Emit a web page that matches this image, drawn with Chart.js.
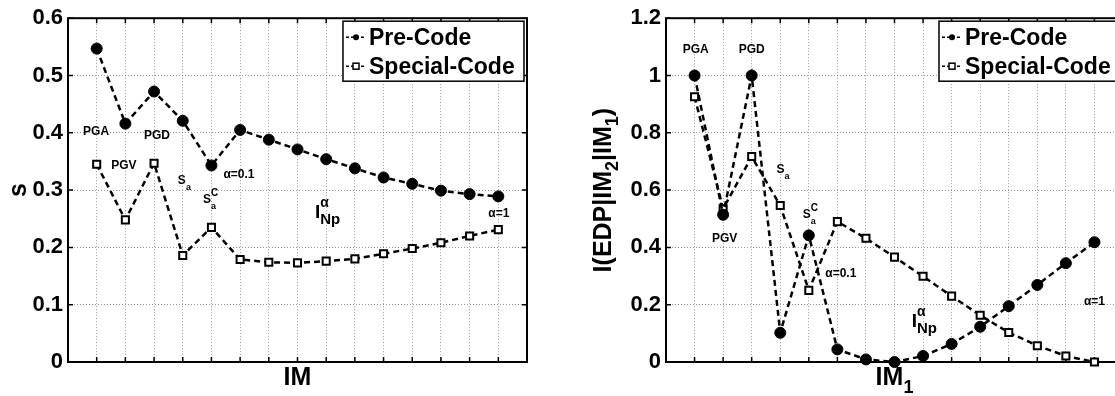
<!DOCTYPE html>
<html>
<head>
<meta charset="utf-8">
<script src="https://cdn.jsdelivr.net/npm/chart.js@4.4.0/dist/chart.umd.min.js"></script>
<style>
html, body { margin: 0; padding: 0; background: #fff; overflow: hidden; width: 1115px; height: 396px; }
#wrapL { position: absolute; left: 0; top: 0; }
#wrapR { position: absolute; left: 557px; top: 0; }
</style>
</head>
<body>
<div id="wrapL"><canvas id="left" width="557" height="396"></canvas></div>
<div id="wrapR"><canvas id="right" width="600" height="396"></canvas></div>
<script>
// x positions: PGA, PGV, PGD, Sa, Sa^C, then I_Np^alpha for alpha = 0.1 ... 1
const imIndex = [1, 2, 3, 4, 5, 6, 7, 8, 9, 10, 11, 12, 13, 14, 15]

// left panel: s
const sPre     = [0.547, 0.416, 0.472, 0.421, 0.343, 0.405, 0.388, 0.371, 0.354, 0.338, 0.322, 0.311, 0.299, 0.293, 0.289]
const sSpecial = [0.345, 0.248, 0.347, 0.186, 0.235, 0.179, 0.174, 0.173, 0.176, 0.180, 0.189, 0.198, 0.208, 0.220, 0.231]

// right panel: I(EDP|IM2|IM1)
const infoPre     = [1.0, 0.514, 1.0, 0.102, 0.442, 0.044, 0.009, 0.0, 0.021, 0.063, 0.123, 0.195, 0.269, 0.345, 0.418]
const infoSpecial = [0.926, 0.535, 0.717, 0.546, 0.250, 0.490, 0.432, 0.366, 0.299, 0.230, 0.163, 0.103, 0.057, 0.021, 0.0]

const seriesNames = ['Pre-Code', 'Special-Code']

const FONT = '"Liberation Sans", Arial, Helvetica, sans-serif'
const fnt = (size, bold) => (bold === false ? '' : 'bold ') + size + 'px ' + FONT

function toPoints(ys) {
    return imIndex.map((x, i) => ({ x: x, y: ys[i] }))
}

function richWidth(ctx, parts) {
    let w = 0
    for (const p of parts) {
        ctx.font = fnt(p.size)
        if (!p.stack) w += ctx.measureText(p.t).width
    }
    return w
}

function drawRich(ctx, x, y, parts, align) {
    if (align === 'center') x -= richWidth(ctx, parts) / 2
    ctx.textAlign = 'left'
    for (const p of parts) {
        ctx.font = fnt(p.size)
        ctx.fillText(p.t, x, y + (p.dy || 0))
        if (!p.stack) x += ctx.measureText(p.t).width
    }
}

function decor(cfg) {
    return {
        id: 'decor',
        beforeDatasetsDraw(chart) {
            const ctx = chart.ctx
            const a = chart.chartArea
            ctx.save()
            ctx.strokeStyle = '#000'
            ctx.lineWidth = 1.5
            // inward tick marks
            ctx.beginPath()
            const xs = chart.scales.x
            for (let v = xs.min + 1; v < xs.max; v++) {
                const px = xs.getPixelForValue(v)
                ctx.moveTo(px, a.bottom); ctx.lineTo(px, a.bottom - 5)
                ctx.moveTo(px, a.top); ctx.lineTo(px, a.top + 5)
            }
            chart.scales.y.ticks.forEach(t => {
                const py = chart.scales.y.getPixelForValue(t.value)
                ctx.moveTo(a.left, py); ctx.lineTo(a.left + 5, py)
                ctx.moveTo(a.right, py); ctx.lineTo(a.right - 5, py)
            })
            ctx.stroke()
            ctx.lineWidth = 2
            ctx.strokeRect(a.left, a.top, a.right - a.left, a.bottom - a.top)
            ctx.restore()
        },
        afterDraw(chart) {
            const ctx = chart.ctx
            const a = chart.chartArea
            const xs = chart.scales.x, ys = chart.scales.y
            ctx.save()
            ctx.fillStyle = '#000'
            ctx.textBaseline = 'alphabetic'

            // point annotations
            cfg.notes.forEach(n => {
                drawRich(ctx, xs.getPixelForValue(n.x), ys.getPixelForValue(n.y), n.parts, n.align)
            })

            // x title
            drawRich(ctx, (a.left + a.right) / 2, a.bottom + 23, cfg.xTitle, 'center')

            // y title, rotated
            ctx.save()
            ctx.translate(a.left + cfg.yTitleOffset, (a.top + a.bottom) / 2)
            ctx.rotate(-Math.PI / 2)
            drawRich(ctx, 0, 9, cfg.yTitle, 'center')
            ctx.restore()

            // legend box
            const bx = a.right - 184, by = a.top + 3, bw = 181, bh = 60
            ctx.fillStyle = '#fff'
            ctx.fillRect(bx, by, bw, bh)
            ctx.strokeStyle = '#000'
            ctx.lineWidth = 1.5
            ctx.strokeRect(bx, by, bw, bh)
            chart.data.datasets.forEach((ds, i) => {
                const cy = by + 16 + i * 29
                ctx.save()
                ctx.lineWidth = 1.5
                ctx.setLineDash([3, 2])
                ctx.beginPath()
                ctx.moveTo(bx + 3, cy); ctx.lineTo(bx + 23, cy)
                ctx.stroke()
                ctx.restore()
                if (ds.pointStyle === 'circle') {
                    ctx.fillStyle = '#000'
                    ctx.beginPath(); ctx.arc(bx + 13, cy, 3, 0, Math.PI * 2); ctx.fill()
                } else {
                    ctx.fillStyle = '#fff'
                    ctx.fillRect(bx + 10, cy - 3, 6, 6)
                    ctx.lineWidth = 1.5
                    ctx.strokeRect(bx + 10, cy - 3, 6, 6)
                }
                ctx.fillStyle = '#000'
                ctx.font = fnt(23)
                ctx.textBaseline = 'middle'
                ctx.textAlign = 'left'
                ctx.fillText(ds.label, bx + 26, cy + 1)
            })
            ctx.restore()
        }
    }
}

function makeChart(id, pre, special, yMax, yStep, yWidth, padRight, cfg) {
    const lineStyle = {
        borderColor: '#000',
        borderWidth: 2.5,
        borderDash: [6, 4],
        pointBorderColor: '#000',
        tension: 0,
        clip: false,
    }
    return new Chart(document.getElementById(id), {
        type: 'line',
        data: {
            datasets: [
                Object.assign({
                    label: seriesNames[0],
                    data: toPoints(pre),
                    pointStyle: 'circle',
                    pointRadius: 5.5,
                    pointBackgroundColor: '#000',
                    pointBorderWidth: 1,
                }, lineStyle),
                Object.assign({
                    label: seriesNames[1],
                    data: toPoints(special),
                    pointStyle: 'rect',
                    pointRadius: 5,
                    pointBackgroundColor: '#fff',
                    pointBorderWidth: 2,
                }, lineStyle),
            ],
        },
        options: {
            responsive: false,
            animation: false,
            layout: { padding: { top: 17, right: padRight, left: 0, bottom: 0 } },
            plugins: { legend: { display: false }, tooltip: { enabled: false } },
            scales: {
                x: {
                    type: 'linear',
                    min: 0, max: 16,
                    ticks: { display: false, stepSize: 1 },
                    grid: { color: 'rgba(0,0,0,0.4)', lineWidth: 1, drawTicks: false },
                    border: { display: false, dash: [1, 2] },
                    afterFit: s => { s.height = 34 },
                },
                y: {
                    min: 0, max: yMax,
                    ticks: {
                        stepSize: yStep,
                        padding: 5,
                        color: '#000',
                        font: { family: FONT, size: 22, weight: 'bold' },
                        callback: v => +v.toFixed(1),
                    },
                    grid: { color: 'rgba(0,0,0,0.4)', lineWidth: 1, drawTicks: false },
                    border: { display: false, dash: [1, 2] },
                    afterFit: s => { s.width = yWidth },
                },
            },
        },
        plugins: [decor(cfg)],
    })
}

const sub = (t, size) => ({ t: t, size: size, dy: 6 })

makeChart('left', sPre, sSpecial, 0.6, 0.1, 68, 30, {
    xTitle: [{ t: 'IM', size: 25 }],
    yTitle: [{ t: 's', size: 25 }],
    yTitleOffset: -51,
    notes: [
        { x: 0.98, y: 0.397, align: 'center', parts: [{ t: 'PGA', size: 12 }] },
        { x: 1.95, y: 0.337, align: 'center', parts: [{ t: 'PGV', size: 12 }] },
        { x: 3.10, y: 0.389, align: 'center', parts: [{ t: 'PGD', size: 12 }] },
        { x: 3.83, y: 0.311, parts: [{ t: 'S', size: 12 }, sub('a', 9)] },
        { x: 4.71, y: 0.278, parts: [{ t: 'S', size: 12 }, { t: 'C', size: 10, dy: -7, stack: true }, sub('a', 9)] },
        { x: 5.96, y: 0.321, align: 'center', parts: [{ t: '\u03b1=0.1', size: 12 }] },
        { x: 8.61, y: 0.252, parts: [{ t: 'I', size: 19 }, { t: '\u03b1', size: 14, dy: -11, stack: true }, { t: 'Np', size: 15, dy: 6 }] },
        { x: 15.02, y: 0.253, align: 'center', parts: [{ t: '\u03b1=1', size: 12 }] },
    ],
})

makeChart('right', infoPre, infoSpecial, 1.2, 0.2, 109, 34, {
    xTitle: [{ t: 'IM', size: 25 }, { t: '1', size: 18, dy: 8 }],
    yTitle: [{ t: 'I(EDP|IM', size: 25 }, { t: '2', size: 18, dy: 7 }, { t: '|IM', size: 25 }, { t: '1', size: 18, dy: 7 }, { t: ')', size: 25 }],
    yTitleOffset: -64,
    notes: [
        { x: 1.04, y: 1.080, align: 'center', parts: [{ t: 'PGA', size: 12 }] },
        { x: 3.00, y: 1.080, align: 'center', parts: [{ t: 'PGD', size: 12 }] },
        { x: 2.05, y: 0.419, align: 'center', parts: [{ t: 'PGV', size: 12 }] },
        { x: 3.87, y: 0.661, parts: [{ t: 'S', size: 12 }, sub('a', 9)] },
        { x: 4.79, y: 0.501, parts: [{ t: 'S', size: 12 }, { t: 'C', size: 10, dy: -7, stack: true }, sub('a', 9)] },
        { x: 6.12, y: 0.298, align: 'center', parts: [{ t: '\u03b1=0.1', size: 12 }] },
        { x: 8.60, y: 0.122, parts: [{ t: 'I', size: 19 }, { t: '\u03b1', size: 14, dy: -11, stack: true }, { t: 'Np', size: 15, dy: 6 }] },
        { x: 15.0, y: 0.200, align: 'center', parts: [{ t: '\u03b1=1', size: 12 }] },
    ],
})
</script>
</body>
</html>
